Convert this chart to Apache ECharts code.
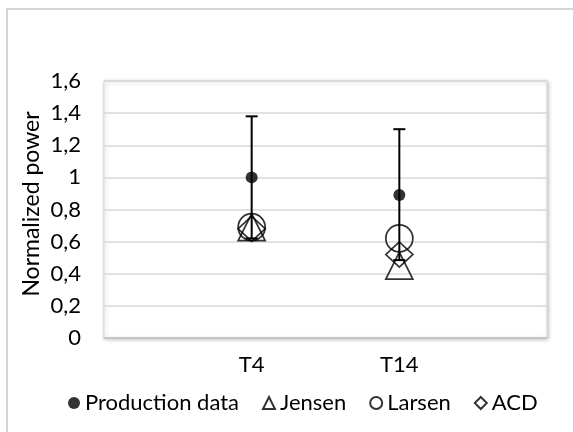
<!DOCTYPE html>
<html>
<head>
<meta charset="utf-8">
<script src="https://cdn.jsdelivr.net/npm/echarts@6/dist/echarts.min.js"></script>
<style>
html,body{margin:0;padding:0;background:#fff;}
#c{width:573px;height:432px;}
</style>
</head>
<body>
<div id="c"></div>
<script>
var categories = ['T4', 'T14'];
var categoryX = [1, 2];
var productionData = [1.0, 0.89];
var errorHigh = [1.38, 1.30];
var errorLow = [0.62, 0.485];
var jensen = [0.69, 0.45];
var larsen = [0.69, 0.62];
var acd = [0.68, 0.52];
var yTickLabels = ['0', '0,2', '0,4', '0,6', '0,8', '1', '1,2', '1,4', '1,6'];
var seriesNames = ['Production data', 'Jensen', 'Larsen', 'ACD'];
var yTitle = 'Normalized power';

var FONT = 'Lato';
function pts(vals) { return vals.map(function (v, i) { return [categoryX[i], v]; }); }

var chart = echarts.init(document.getElementById('c'), null, { renderer: 'canvas' });
var hollow = { color: 'rgba(0,0,0,0)', borderColor: '#000', borderWidth: 1.75 };

chart.setOption({
  animation: false,
  backgroundColor: '#fff',
  textStyle: { fontFamily: FONT },
  graphic: [
    { type: 'rect', z: -10, shape: { x: 7, y: 9, width: 700, height: 600 },
      style: { fill: 'none', stroke: '#d4d4d4', lineWidth: 2 } },
    { type: 'text', x: 32, y: 204, rotation: Math.PI / 2,
      style: { text: yTitle, font: '23px ' + FONT, fill: '#000', align: 'center', verticalAlign: 'middle' } }
  ],
  grid: { left: 104, right: 26, top: 81, bottom: 94, show: true, backgroundColor: '#fff',
    borderColor: '#d9d9d9', borderWidth: 1,
    shadowColor: 'rgba(0,0,0,0.25)', shadowBlur: 4, shadowOffsetX: 1, shadowOffsetY: 1 },
  legend: {
    data: seriesNames, left: 63, top: 387, itemWidth: 12, itemHeight: 12, itemGap: 23,
    textStyle: { fontSize: 22, fontFamily: FONT, color: '#000' }
  },
  xAxis: {
    type: 'value', min: 0, max: 3, interval: 1,
    axisLine: { show: true, lineStyle: { color: '#bfbfbf', width: 1.5 } },
    axisTick: { show: false },
    splitLine: { show: false },
    axisLabel: { margin: 16, fontSize: 22, fontFamily: FONT, color: '#000',
      formatter: function (v) { var i = categoryX.indexOf(v); return i >= 0 ? categories[i] : ''; } }
  },
  yAxis: {
    type: 'value', min: 0, max: 1.6, interval: 0.2,
    axisLine: { show: false }, axisTick: { show: false },
    splitLine: { show: true, lineStyle: { color: '#d9d9d9', width: 1.5 } },
    axisLabel: { margin: 23, fontSize: 22, fontFamily: FONT, color: '#000',
      formatter: function (v, i) { return yTickLabels[i]; } }
  },
  series: [
    { name: seriesNames[0], type: 'scatter', symbol: 'circle', symbolSize: 12, z: 5,
      itemStyle: { color: '#000' }, data: pts(productionData) },
    { name: seriesNames[1], type: 'scatter', symbol: 'triangle', symbolSize: 27, z: 3,
      itemStyle: hollow, data: pts(jensen) },
    { name: seriesNames[2], type: 'scatter', symbol: 'circle', symbolSize: 27, z: 3,
      itemStyle: hollow, data: pts(larsen) },
    { name: seriesNames[3], type: 'scatter', symbol: 'diamond', symbolSize: [27, 25], z: 3,
      itemStyle: hollow, data: pts(acd) },
    { name: 'errorbars', type: 'custom', z: 4,
      data: categoryX.map(function (x, i) { return [x, errorLow[i], errorHigh[i]]; }),
      renderItem: function (params, api) {
        var x = api.value(0);
        var hi = api.coord([x, api.value(2)]);
        var lo = api.coord([x, api.value(1)]);
        var cap = 6;
        var st = { stroke: '#000', lineWidth: 2 };
        return { type: 'group', children: [
          { type: 'line', shape: { x1: hi[0], y1: hi[1], x2: lo[0], y2: lo[1] }, style: st },
          { type: 'line', shape: { x1: hi[0] - cap, y1: hi[1], x2: hi[0] + cap, y2: hi[1] }, style: st },
          { type: 'line', shape: { x1: lo[0] - cap, y1: lo[1], x2: lo[0] + cap, y2: lo[1] }, style: st }
        ] };
      }
    }
  ]
});
</script>
</body>
</html>
